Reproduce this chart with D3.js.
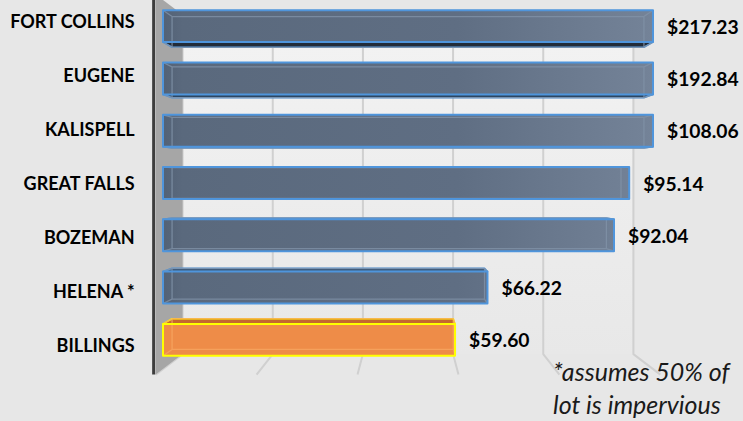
<!DOCTYPE html>
<html><head><meta charset="utf-8">
<script src="https://cdn.jsdelivr.net/npm/d3@7"></script>
<style>html,body{margin:0;padding:0;background:#e7e7e7;} svg{display:block}</style>
</head><body><svg id="chart" width="743" height="421"></svg>
<script>
// ---- data ----
const categories = ["FORT COLLINS","EUGENE","KALISPELL","GREAT FALLS","BOZEMAN","HELENA *","BILLINGS"];
const values = [217.23,192.84,108.06,95.14,92.04,66.22,59.60];
const valueLabels = ["$217.23","$192.84","$108.06","$95.14","$92.04","$66.22","$59.60"];
const highlighted = ["BILLINGS"];
const axisTicks = [0,20,40,60,80,100];
const noteLines = ["*assumes 50% of","lot is impervious"];

// ---- layout ----
const W = 743, H = 421;
const svg = d3.select("#chart");
const VP = {x:408, y:183};           // vanishing point
const R_BACKBAR = 0.963, R_WALL = 0.92, R_FRONT = 1.03;
const yTop = 0, yFloor = 369;

const x = d3.scaleLinear().domain([0,100]).range([163,653]).clamp(true);
const y = d3.scaleBand().domain(categories).range([0,366]).paddingInner(0.39).paddingOuter(0.195);
const bw = y.bandwidth();
const proj = (p, r) => [VP.x + (p[0]-VP.x)*r, VP.y + (p[1]-VP.y)*r];
const line = pts => "M" + pts.map(p => p[0].toFixed(2)+","+p[1].toFixed(2)).join("L") + "Z";
const seg = (a,b) => "M"+a[0]+","+a[1]+"L"+b[0]+","+b[1];

svg.append("rect").attr("width",W).attr("height",H).attr("fill","#e7e7e7");

const defs = svg.append("defs");
const wg = defs.append("linearGradient").attr("id","wallG").attr("x1",0).attr("x2",0).attr("y1",0).attr("y2",1);
wg.append("stop").attr("offset","0%").attr("stop-color","#f3f3f3");
wg.append("stop").attr("offset","100%").attr("stop-color","#e8e8e8");
const bg = defs.append("linearGradient").attr("id","blueG").attr("gradientUnits","userSpaceOnUse")
  .attr("x1",x(0)).attr("x2",x(100)).attr("y1",0).attr("y2",0);
bg.append("stop").attr("offset","0%").attr("stop-color","#536276");
bg.append("stop").attr("offset","4%").attr("stop-color","#5a697d");
bg.append("stop").attr("offset","60%").attr("stop-color","#5f6e83");
bg.append("stop").attr("offset","100%").attr("stop-color","#748398");

// ---- back wall ----
const bwTL = proj([x(0), yTop], R_WALL), bwBR = proj([x(100), yFloor], R_WALL);
svg.append("rect").attr("x",bwTL[0]).attr("y",bwTL[1]).attr("width",bwBR[0]-bwTL[0]).attr("height",bwBR[1]-bwTL[1])
  .attr("fill","url(#wallG)");

// ---- gridlines (back wall + floor) ----
const grid = svg.append("g").attr("fill","none").attr("stroke","#d0d0d0").attr("stroke-width",2).attr("stroke-linejoin","round");
axisTicks.forEach(t => {
  const top = proj([x(t), yTop], R_WALL), bot = proj([x(t), yFloor], R_WALL), fr = proj([x(t), yFloor], R_FRONT);
  grid.append("path").attr("d","M"+top[0]+","+top[1]+"L"+bot[0]+","+bot[1]+"L"+fr[0]+","+fr[1]);
});

// ---- side wall ----
const wFT = proj([x(0), yTop], R_FRONT), wBT = proj([x(0), yTop], R_WALL),
      wBB = proj([x(0), yFloor], R_WALL), wFB = proj([x(0), yFloor], R_FRONT);
svg.append("path").attr("d", line([wFT,wBT,wBB,wFB])).attr("fill","#a6a6a6");
svg.append("line").attr("x1",wFT[0]-2).attr("x2",wFB[0]-2).attr("y1",-6).attr("y2",wFB[1])
  .attr("stroke","#3d3d3d").attr("stroke-width",3);

// ---- bars ----
const bars = svg.append("g");
categories.forEach((c,i) => {
  const hi = highlighted.includes(c);
  const x0 = x(0), x1 = x(values[i]), y0 = y(c), y1 = y0 + bw;
  const F = [[x0,y0],[x1,y0],[x1,y1],[x0,y1]];
  const B = F.map(p => proj(p, R_BACKBAR));
  const edge = hi ? "#ffff00" : "#4f95dc";
  const g = bars.append("g");
  if (y1 < VP.y) {
    g.append("path").attr("d", line([F[3],F[2],B[2],B[3]])).attr("fill", hi ? "#a9582a" : "#222c39")
      .attr("stroke", edge).attr("stroke-width",1.6).attr("stroke-linejoin","round");
  } else if (y0 > VP.y) {
    g.append("path").attr("d", line([F[0],F[1],B[1],B[0]])).attr("fill", hi ? "#c4672f" : "#3d4a5b")
      .attr("stroke", edge).attr("stroke-width",1.6).attr("stroke-linejoin","round");
  }
  g.append("path").attr("d", line(F)).attr("fill", hi ? "#ee8c48" : "url(#blueG)");
  const inner = hi ? "#f6a661" : "#8192a7";
  const hid = [seg(B[0],B[1]), seg(B[1],B[2]), seg(B[2],B[3]), seg(B[3],B[0]),
               seg(F[0],B[0]), seg(F[1],B[1]), seg(F[2],B[2]), seg(F[3],B[3])].join("");
  g.append("path").attr("d", hid).attr("fill","none").attr("stroke", inner).attr("stroke-width",1.3).attr("opacity",0.8);
  g.append("path").attr("d", line(F)).attr("fill","none").attr("stroke", edge).attr("stroke-width",2)
    .attr("stroke-linejoin","round");
});

// ---- category labels ----
const labX = proj([x(0), 0], R_FRONT)[0] - 21;
svg.append("g").selectAll("text").data(categories).join("text")
  .attr("x", labX).attr("y", d => proj([x(0), y(d)+bw/2], R_FRONT)[1])
  .attr("text-anchor","end").attr("dominant-baseline","central")
  .attr("font-family","Lato, 'Open Sans', sans-serif").attr("font-weight","bold").attr("font-size",18)
  .attr("fill","#000").text(d => d);

// ---- value labels ----
svg.append("g").selectAll("text").data(categories).join("text")
  .attr("x", (d,i) => x(values[i]) + 14).attr("y", d => y(d)+bw/2)
  .attr("dominant-baseline","central")
  .attr("font-family","Lato, 'Open Sans', sans-serif").attr("font-weight","bold").attr("font-size",19.3)
  .attr("fill","#000").text((d,i) => valueLabels[i]);

// ---- note ----
svg.append("g").selectAll("text").data(noteLines).join("text")
  .attr("x", 553).attr("y", (d,i) => 381 + i*33)
  .attr("font-family","Lato, 'Open Sans', sans-serif").attr("font-style","italic").attr("font-size",25)
  .attr("fill","#1a1a1a").text(d => d);
</script></body></html>
